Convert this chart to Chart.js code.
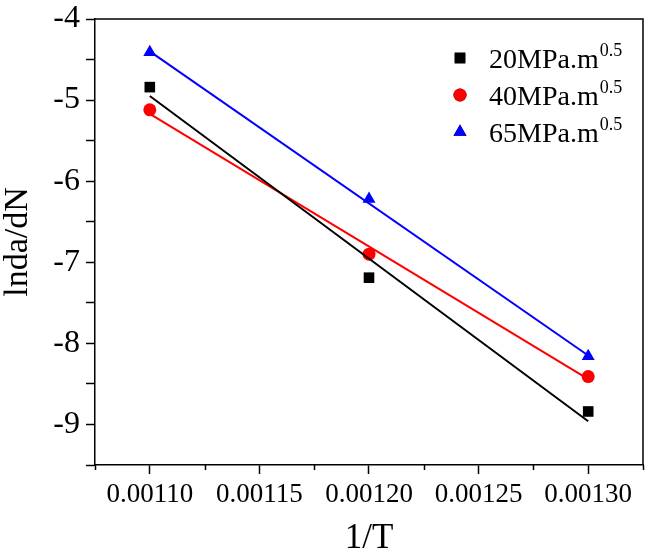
<!DOCTYPE html>
<html>
<head>
<meta charset="utf-8">
<script src="https://cdn.jsdelivr.net/npm/chart.js@4.4.1/dist/chart.umd.min.js"></script>
<style>
  html, body { margin: 0; padding: 0; background: #fff; }
  #wrap { width: 651px; height: 558px; }
</style>
</head>
<body>
<div id="wrap"><canvas id="grafico"></canvas></div>
<script>
const invT = [0.00110, 0.00120, 0.00130];
const fitX = [0.00110, 0.00130];

const labels = ['20MPa.m', '40MPa.m', '65MPa.m'];
const expo = '0.5';

const puntos20 = [-4.84, -7.19, -8.84];
const puntos40 = [-5.12, -6.90, -8.41];
const puntos65 = [-4.41, -6.22, -8.16];

// extremos de las rectas de ajuste
const ajuste20 = [-4.95, -8.96];
const ajuste40 = [-5.17, -8.44];
const ajuste65 = [-4.40, -8.15];

const colores = ['#000000', '#ff0000', '#0000ff'];
const estilos = ['rect', 'circle', 'triangle'];
const radios = [7.5, 6.5, 7.5];

const serie = (xs, ys) => xs.map((x, i) => ({ x: x, y: ys[i] }));

const puntos = [puntos20, puntos40, puntos65];
const ajustes = [ajuste20, ajuste40, ajuste65];

const PASO_X = 0.000025;
const esMayor = v => Math.round(v / PASO_X) % 2 === 0;

const datasets = [];
ajustes.forEach((a, i) => {
    datasets.push({
        label: 'fit ' + labels[i],
        data: serie(fitX, a),
        showLine: true,
        borderColor: colores[i],
        borderWidth: 2,
        pointRadius: 0,
        fill: false,
        esLeyenda: false
    });
});
puntos.forEach((p, i) => {
    datasets.push({
        label: labels[i],
        data: serie(invT, p),
        showLine: false,
        pointStyle: estilos[i],
        pointRadius: radios[i],
        backgroundColor: colores[i],
        borderColor: colores[i],
        borderWidth: 0,
        esLeyenda: true
    });
});

const marco = {
    id: 'marco',
    afterDraw(chart) {
        const { ctx, chartArea: a } = chart;
        ctx.save();
        ctx.strokeStyle = '#000';
        ctx.lineWidth = 1.5;
        ctx.beginPath();
        ctx.moveTo(a.left, a.top);
        ctx.lineTo(a.right, a.top);
        ctx.lineTo(a.right, a.bottom);
        ctx.stroke();

        // ticks menores del eje x, mas cortos
        const sx = chart.scales.x;
        ctx.beginPath();
        sx.ticks.forEach(t => {
            if (esMayor(t.value)) return;
            const px = Math.round(sx.getPixelForValue(t.value)) + 0.5;
            ctx.moveTo(px, a.bottom);
            ctx.lineTo(px, a.bottom + 5);
        });
        ctx.stroke();
        ctx.restore();
    }
};

const leyenda = {
    id: 'leyenda',
    afterDraw(chart) {
        const ctx = chart.ctx;
        const items = chart.data.datasets.filter(d => d.esLeyenda);
        ctx.save();
        items.forEach((d, i) => {
            const y = 58 + i * 37;
            Chart.helpers.drawPoint(ctx, {
                pointStyle: d.pointStyle,
                radius: d.pointRadius,
                borderWidth: 0,
                rotation: 0
            }, 460, y);
            ctx.fillStyle = d.backgroundColor;
            ctx.fill();
            ctx.fillStyle = '#000';
            ctx.textBaseline = 'alphabetic';
            ctx.textAlign = 'left';
            ctx.font = '28px "Liberation Serif"';
            ctx.fillText(d.label, 489, y + 10);
            const w = ctx.measureText(d.label).width;
            ctx.font = '18px "Liberation Serif"';
            ctx.fillText(expo, 489 + w + 1, y - 2);
        });
        ctx.restore();
    }
};

const fondo = {
    id: 'fondo',
    beforeDraw(chart) {
        const ctx = chart.ctx;
        ctx.save();
        ctx.fillStyle = '#fff';
        ctx.fillRect(0, 0, chart.width, chart.height);
        ctx.restore();
    }
};

new Chart(document.getElementById('grafico').getContext('2d'), {
    type: 'scatter',
    data: { datasets: datasets },
    plugins: [fondo, marco, leyenda],
    options: {
        responsive: true,
        maintainAspectRatio: false,
        animation: false,
        layout: { padding: { left: 0, top: 19, right: 8, bottom: 0 } },
        plugins: {
            legend: { display: false },
            tooltip: { enabled: false }
        },
        scales: {
            x: {
                type: 'linear',
                min: 0.001075,
                max: 0.001325,
                afterFit: s => { s.height = 93; },
                border: { color: '#000', width: 1.5 },
                grid: {
                    drawOnChartArea: false,
                    color: '#000',
                    tickColor: c => (c.tick && esMayor(c.tick.value)) ? '#000' : 'rgba(0,0,0,0)',
                    tickLength: 9,
                    tickWidth: 1.5
                },
                ticks: {
                    stepSize: PASO_X,
                    autoSkip: false,
                    maxRotation: 0,
                    padding: 5,
                    color: '#000',
                    font: { family: '"Liberation Serif"', size: 27 },
                    callback: v => esMayor(v) ? v.toFixed(5) : ''
                },
                title: {
                    display: true,
                    text: '1/T',
                    color: '#000',
                    padding: 0,
                    font: { family: '"Liberation Serif"', size: 35, lineHeight: 1.1 }
                }
            },
            y: {
                min: -9.5,
                max: -4,
                afterFit: s => { s.width = 95; },
                border: { color: '#000', width: 1.5 },
                grid: {
                    drawOnChartArea: false,
                    color: '#000',
                    tickLength: 9,
                    tickWidth: 1.5
                },
                ticks: {
                    stepSize: 0.5,
                    autoSkip: false,
                    padding: 6,
                    color: '#000',
                    font: { family: '"Liberation Serif"', size: 32, lineHeight: 0.8 },
                    callback: v => Number.isInteger(v) ? String(v) : ''
                },
                title: {
                    display: true,
                    text: 'lnda/dN',
                    color: '#000',
                    padding: 0,
                    font: { family: '"Liberation Serif"', size: 34, lineHeight: 1.05 }
                }
            }
        }
    }
});
</script>
</body>
</html>
